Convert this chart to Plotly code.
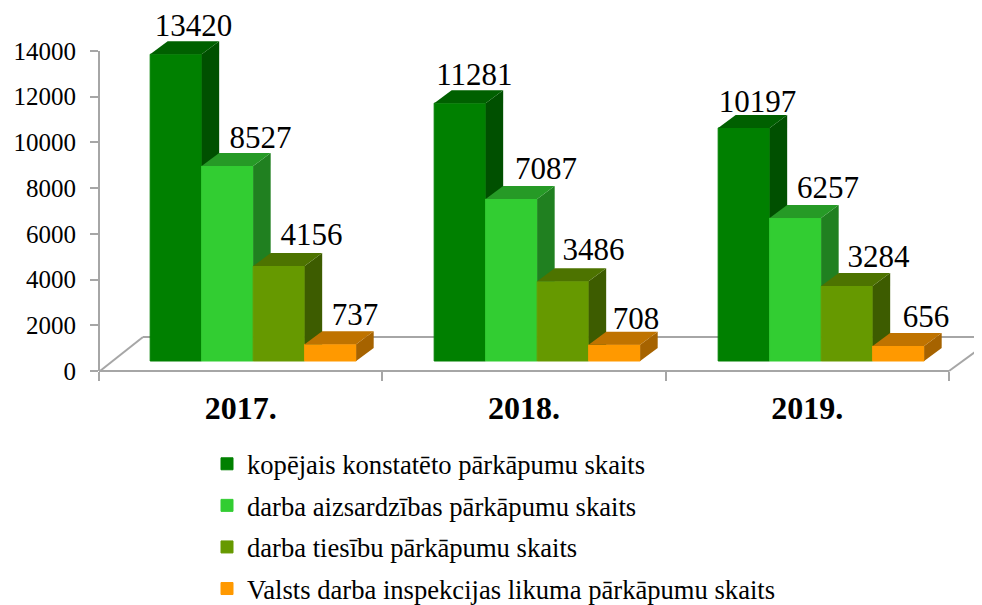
import plotly.graph_objects as go

years = ["2017.", "2018.", "2019."]
series_names = [
    "kopējais konstatēto pārkāpumu skaits",
    "darba aizsardzības pārkāpumu skaits",
    "darba tiesību pārkāpumu skaits",
    "Valsts darba inspekcijas likuma pārkāpumu skaits",
]
total = [13420, 11281, 10197]
safety = [8527, 7087, 6257]
labour = [4156, 3486, 3284]
inspect = [737, 708, 656]
series_values = [total, safety, labour, inspect]
y_ticks = [0, 2000, 4000, 6000, 8000, 10000, 12000, 14000]

front = ["#008000", "#32CD32", "#669900", "#FF9900"]
top = ["#006000", "#269A26", "#4D7300", "#BF7300"]
side = ["#005000", "#208020", "#3D5C00", "#A66300"]
GREY = "#A6A6A6"
FONT = "Liberation Serif"

# geometry in screen pixels; the page body adds an 8 px margin to the figure.
# The axes run to the figure's top and right edges so that the 3-D faces and
# labels above 14000 are not clipped.
PAGE = 8
W, H = 982 - PAGE, 605 - PAGE
L, R, T, B = 99 - PAGE, 982 - PAGE, 0, 371 - PAGE
PX_X = (949 - 99) / 3
PX_Y = (371 - 51) / 14000

bar_w = 51.5 / PX_X
group_pitch = 284 / PX_X
group_shift = 12.5 / PX_X
depth_x = 17.5 / PX_X
depth_y = 13 / PX_Y
base = 10 / PX_Y
label_dx = [[0, -3, -4], [15.5, 17, 15], [15, 13, 14], [7, 4, 10]]
label_dy = [[26, 26, 24], [26, 28, 28], [29, 29, 27], [27, 24, 27]]


def bar_left(i, j):
    return i * group_pitch + group_shift + (j - 2) * bar_w


fig = go.Figure()

# depth faces: the part of each side not hidden by the next bar, then the top
for j, values in enumerate(series_values):
    for i, v in enumerate(values):
        x0 = bar_left(i, j)
        x1 = x0 + bar_w
        h = v + base
        if j < len(series_values) - 1:
            low_front = low_back = series_values[j + 1][i] + base
        else:
            low_front, low_back = base, base + depth_y
        fig.add_trace(go.Scatter(
            x=[x1, x1 + depth_x, x1 + depth_x, x1, x1],
            y=[h, h + depth_y, low_back, low_front, h],
            mode="lines", fill="toself", fillcolor=side[j], line=dict(width=0),
            showlegend=False, hoverinfo="skip"))
        fig.add_trace(go.Scatter(
            x=[x0, x1, x1 + depth_x, x0 + depth_x, x0],
            y=[h, h, h + depth_y, h + depth_y, h],
            mode="lines", fill="toself", fillcolor=top[j], line=dict(width=0),
            showlegend=False, hoverinfo="skip"))

# front faces
for j, values in enumerate(series_values):
    fig.add_trace(go.Bar(
        x=[bar_left(i, j) + bar_w / 2 for i in range(3)],
        y=values, base=base, width=bar_w, name=series_names[j],
        legendgroup=str(j),
        marker=dict(color=front[j], line=dict(color=front[j], width=1))))

# data labels
for j, values in enumerate(series_values):
    fig.add_trace(go.Scatter(
        x=[bar_left(i, j) + bar_w / 2 + depth_x + label_dx[j][i] / PX_X for i in range(3)],
        y=[v + base + label_dy[j][i] / PX_Y for i, v in enumerate(values)],
        text=[str(v) for v in values], mode="text", textposition="middle center",
        textfont=dict(family=FONT, size=31, color="#000000"),
        showlegend=False, hoverinfo="skip"))


def px(x):
    return (x - PAGE - L) / (R - L)


def py(y):
    return (B - (y - PAGE)) / (B - T)


frame = [
    (99, 371, 949, 371),   # category axis line
    (99, 371, 99, 51),     # value axis line
    (100, 371, 143, 337),  # floor, left edge
    (143, 337, 982, 337),  # floor, back edge
    (949, 371, 982, 347),  # floor, right edge
]
shapes = [dict(type="line", xref="paper", yref="paper", layer="below",
               x0=px(a), y0=py(b), x1=px(c), y1=py(d),
               line=dict(color=GREY, width=2)) for a, b, c, d in frame]

fig.update_layout(
    width=W, height=H, autosize=False,
    margin=dict(l=L, r=W - R, t=T, b=H - B, pad=0, autoexpand=False),
    paper_bgcolor="#FFFFFF", plot_bgcolor="rgba(0,0,0,0)",
    barmode="overlay", shapes=shapes,
    font=dict(family=FONT, color="#000000"),
    xaxis=dict(range=[-0.5, -0.5 + (R - L) / PX_X], tickvals=[0, 1, 2],
               ticktext=[f"<b>{y}</b>" for y in years], automargin=False,
               tickfont=dict(family=FONT, size=32), ticks="", showgrid=False, zeroline=False,
               showline=False, ticklabelstandoff=15,
               minor=dict(ticks="outside", tick0=-0.5, dtick=1, ticklen=9, tickcolor=GREY,
                          tickwidth=2, showgrid=False)),
    yaxis=dict(range=[0, (B - T) / PX_Y], tickvals=y_ticks, tickformat="d", automargin=False,
               tickfont=dict(family=FONT, size=25), ticks="outside", ticklen=8, tickcolor=GREY,
               tickwidth=2, showgrid=False, zeroline=False, showline=False,
               ticklabelstandoff=9),
    legend=dict(x=px(207), xanchor="left", y=py(440), yanchor="top",
                font=dict(family=FONT, size=26.6), traceorder="grouped", tracegroupgap=4,
                bgcolor="rgba(0,0,0,0)", borderwidth=0, itemclick=False, itemdoubleclick=False),
)

fig.write_html("out.html", config=dict(displayModeBar=False))
